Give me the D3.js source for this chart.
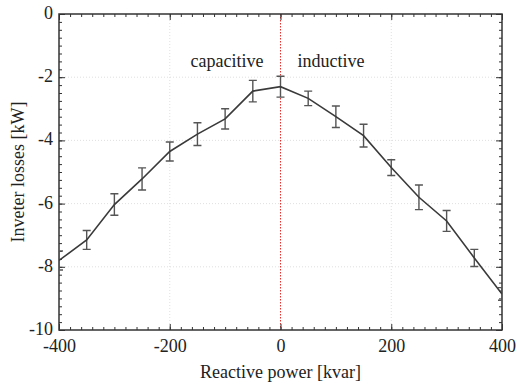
<!DOCTYPE html>
<html>
<head>
<meta charset="utf-8">
<script src="https://cdn.jsdelivr.net/npm/d3@7"></script>
<style>
  html, body { margin: 0; padding: 0; background: #fff; }
  #chart text { font-family: "Liberation Serif", serif; }
</style>
</head>
<body>
<svg id="chart" width="517" height="384" font-family="Liberation Serif"></svg>
<script>
// reactive power setpoints [kvar]
const qValues = [-400, -350, -300, -250, -200, -150, -100, -50, 0, 50, 100, 150, 200, 250, 300, 350, 400];
// inverter losses [kW]
const lossValues = [-7.8, -7.15, -6.03, -5.22, -4.35, -3.8, -3.32, -2.44, -2.3, -2.67, -3.25, -3.85, -4.86, -5.8, -6.55, -7.72, -8.86];
// half-height of error bars [kW]
const lossErr = [0.3, 0.3, 0.34, 0.35, 0.3, 0.36, 0.32, 0.34, 0.33, 0.23, 0.34, 0.36, 0.25, 0.39, 0.33, 0.27, 0.2];

const xTicks = [-400, -200, 0, 200, 400];
const yTicks = [0, -2, -4, -6, -8, -10];
const xLabel = "Reactive power [kvar]";
const yLabel = "Inveter losses [kW]";
const regionLabels = ["capacitive", "inductive"];

const FONT = "Liberation Serif";
const fmt = (d) => String(d); // plain hyphen minus, like the original

const svg = d3.select("#chart");
const m = { left: 59, top: 14, right: 517 - 502, bottom: 384 - 330 };
const W = 517 - m.left - m.right;
const H = 384 - m.top - m.bottom;

const x = d3.scaleLinear().domain([-400, 400]).range([0, W]);
const y = d3.scaleLinear().domain([-10, 0]).range([H, 0]);

const g = svg.append("g").attr("transform", `translate(${m.left},${m.top})`);

svg.append("defs").append("clipPath").attr("id", "plotClip")
  .append("rect").attr("width", W).attr("height", H);

// grid
const grid = g.append("g").attr("stroke", "#d8d8d8").attr("stroke-width", 0.8).attr("stroke-dasharray", "1,2");
grid.selectAll("line.gx").data(xTicks.filter(d => d > -400 && d < 400 && d !== 0)).join("line")
  .attr("x1", d => x(d)).attr("x2", d => x(d)).attr("y1", 0).attr("y2", H);
grid.selectAll("line.gy").data(yTicks.filter(d => d > -10 && d < 0)).join("line")
  .attr("y1", d => y(d)).attr("y2", d => y(d)).attr("x1", 0).attr("x2", W);

// zero line
g.append("line")
  .attr("x1", x(0)).attr("x2", x(0)).attr("y1", 0).attr("y2", H)
  .attr("stroke", "#e8302e").attr("stroke-width", 1).attr("stroke-dasharray", "1.5,1.5");

// axes with inward ticks
const xMinor = d3.range(-400, 401, 20);
const yMinor = d3.range(-10, 0.001, 0.25);

function drawAxis(axis, ticks, len, transform, labels) {
  const a = g.append("g").attr("transform", transform)
    .call(axis.tickValues(ticks).tickSize(-len).tickPadding(6).tickFormat(labels ? fmt : ""));
  a.attr("font-family", FONT).attr("font-size", 18);
  a.select(".domain").remove();
  a.selectAll(".tick line").attr("stroke", "#333").attr("stroke-width", 1);
  a.selectAll(".tick text").attr("font-family", FONT).attr("fill", "#222");
  return a;
}
drawAxis(d3.axisBottom(x), xMinor, 3, `translate(0,${H})`, false);
drawAxis(d3.axisTop(x), xMinor, 3, `translate(0,0)`, false);
drawAxis(d3.axisLeft(y), yMinor, 3, `translate(0,0)`, false);
drawAxis(d3.axisRight(y), yMinor, 3, `translate(${W},0)`, false);
drawAxis(d3.axisBottom(x), xTicks, 6, `translate(0,${H})`, true)
  .selectAll(".tick text").attr("dy", "0.9em");
drawAxis(d3.axisTop(x), xTicks, 6, `translate(0,0)`, false);
drawAxis(d3.axisLeft(y), yTicks, 6, `translate(0,0)`, true)
  .selectAll(".tick text").attr("dy", "0.25em");
drawAxis(d3.axisRight(y), yTicks, 6, `translate(${W},0)`, false);

// frame
g.append("rect").attr("width", W).attr("height", H)
  .attr("fill", "none").attr("stroke", "#333").attr("stroke-width", 1.5);

// data
const pts = qValues.map((q, i) => ({ q, v: lossValues[i], e: lossErr[i] }));
const plot = g.append("g").attr("clip-path", "url(#plotClip)");

const eb = plot.append("g").attr("stroke", "#555").attr("stroke-width", 1.4).attr("fill", "none");
const cap = 4;
eb.selectAll("path").data(pts).join("path")
  .attr("d", d => {
    const cx = x(d.q), t = y(d.v + d.e), b = y(d.v - d.e);
    return `M${cx - cap},${t}H${cx + cap}M${cx},${t}V${b}M${cx - cap},${b}H${cx + cap}`;
  });

plot.append("path").datum(pts)
  .attr("fill", "none").attr("stroke", "#3a3a3a").attr("stroke-width", 1.6)
  .attr("d", d3.line().x(d => x(d.q)).y(d => y(d.v)));

// region labels
const txt = (sel) => sel.attr("font-family", FONT).attr("font-size", 18).attr("fill", "#222");
g.append("text").attr("x", x(0) - 17).attr("y", y(-1.67)).attr("text-anchor", "end")
  .call(txt).text(regionLabels[0]);
g.append("text").attr("x", x(0) + 17).attr("y", y(-1.67)).attr("text-anchor", "start")
  .call(txt).text(regionLabels[1]);

// axis titles
svg.append("text").attr("x", m.left + x(0)).attr("y", 378).attr("text-anchor", "middle")
  .call(txt).text(xLabel);
svg.append("text").attr("transform", `translate(24,${m.top + H / 2}) rotate(-90)`)
  .attr("text-anchor", "middle").call(txt).text(yLabel);
</script>
</body>
</html>
